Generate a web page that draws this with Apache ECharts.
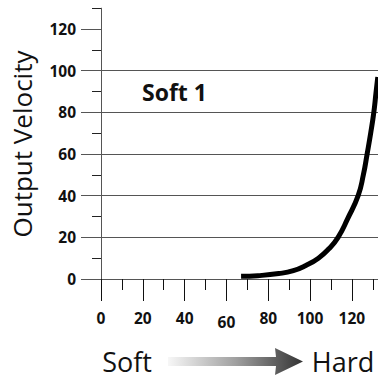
<!DOCTYPE html>
<html><head><meta charset="utf-8">
<script src="https://cdn.jsdelivr.net/npm/echarts@6/dist/echarts.min.js"></script>
<style>html,body{margin:0;padding:0;background:#fff}#c{width:378px;height:379px}</style>
</head><body><div id="c"></div>
<script>
// Data
const curveX = [67, 75, 85, 92, 98, 104, 109, 113.4, 118, 123, 125.5, 127.3, 129, 130.5, 131.5, 132.4];
const curveY = [1.3, 1.6, 2.6, 4, 6.5, 10, 14.5, 20, 29, 40, 50, 60, 70, 80, 89, 97];
const yMajorTicks = [0, 20, 40, 60, 80, 100, 120];
const yMinorTicks = [10, 30, 50, 70, 90, 110, 130];
const xMajorTicks = [0, 20, 40, 60, 80, 100, 120];
const xMinorTicks = [10, 30, 50, 70, 90, 110, 130];
const yTitle = 'Output Velocity';
const curveLabel = 'Soft 1';
const leftText = 'Soft';
const rightText = 'Hard';

const FONT = '"Open Sans", sans-serif';
const chart = echarts.init(document.getElementById('c'), null, {renderer: 'svg'});
const axisCol = '#555';
const xMax = 132.5, yMax = 130;

chart.setOption({
  animation: false,
  grid: {left: 101, top: 8.2, right: 0, bottom: 100},
  xAxis: [
    {type: 'value', min: 0, max: xMax, position: 'bottom',
     axisLine: {show: true, lineStyle: {color: axisCol, width: 1}},
     axisTick: {show: true, customValues: xMinorTicks, length: 11, lineStyle: {color: '#111', width: 1}},
     axisLabel: {show: false}, splitLine: {show: false}},
    {type: 'value', min: 0, max: xMax, position: 'bottom',
     axisLine: {show: false},
     axisTick: {show: true, customValues: xMajorTicks, length: 22, lineStyle: {color: '#111', width: 1}},
     axisLabel: {show: true, customValues: xMajorTicks, margin: 31, fontFamily: FONT, fontWeight: 'bold', fontSize: 15.5, color: '#111',
       formatter: v => v === 60 ? '{low|60}' : String(v),
       rich: {low: {fontFamily: FONT, fontWeight: 'bold', fontSize: 15.5, color: '#111', padding: [4, 0, 0, 0]}}},
     splitLine: {show: false}}
  ],
  yAxis: [
    {type: 'value', min: 0, max: yMax, position: 'left',
     axisLine: {show: true, lineStyle: {color: axisCol, width: 1}},
     axisTick: {show: true, customValues: yMinorTicks, length: 9, lineStyle: {color: '#222', width: 1}},
     axisLabel: {show: false}, splitLine: {show: false}},
    {type: 'value', min: 0, max: yMax, position: 'left',
     axisLine: {show: false},
     axisTick: {show: true, customValues: yMajorTicks, length: 20, lineStyle: {color: '#555', width: 1}},
     axisLabel: {show: true, customValues: yMajorTicks, margin: 25, fontFamily: FONT, fontWeight: 'bold', fontSize: 15.5, color: '#111'},
     splitLine: {show: true, showMaxLine: false, lineStyle: {color: '#555', width: 1}}}
  ],
  series: [{
    type: 'line', xAxisIndex: 0, yAxisIndex: 0,
    data: curveX.map((x, i) => [x, curveY[i]]),
    smooth: 0.5, showSymbol: false, symbol: 'none',
    lineStyle: {color: '#000', width: 5, cap: 'butt', join: 'round'}, clip: true
  }],
  graphic: [
    {type: 'text', x: 22, y: 144, rotation: Math.PI / 2,
     style: {text: yTitle, fontFamily: FONT, fontSize: 26, fill: '#111', align: 'center', verticalAlign: 'middle'}},
    {type: 'text', x: 142, y: 92,
     style: {text: curveLabel, fontFamily: FONT, fontWeight: 'bold', fontSize: 23, fill: '#111', align: 'left', verticalAlign: 'middle'}},
    {type: 'text', x: 127, y: 361,
     style: {text: leftText, fontFamily: FONT, fontSize: 27, fill: '#111', align: 'center', verticalAlign: 'middle'}},
    {type: 'text', x: 343, y: 361,
     style: {text: rightText, fontFamily: FONT, fontSize: 27, fill: '#111', align: 'center', verticalAlign: 'middle'}},
    {type: 'polygon',
     shape: {points: [[168, 357], [276, 357], [275, 348], [303, 361.5], [275, 375], [276, 366], [168, 366]]},
     style: {fill: new echarts.graphic.LinearGradient(0, 0, 1, 0, [
       {offset: 0, color: '#f7f7f7'}, {offset: 0.5, color: '#a0a0a0'}, {offset: 1, color: '#333'}])}}
  ]
});
</script></body></html>
